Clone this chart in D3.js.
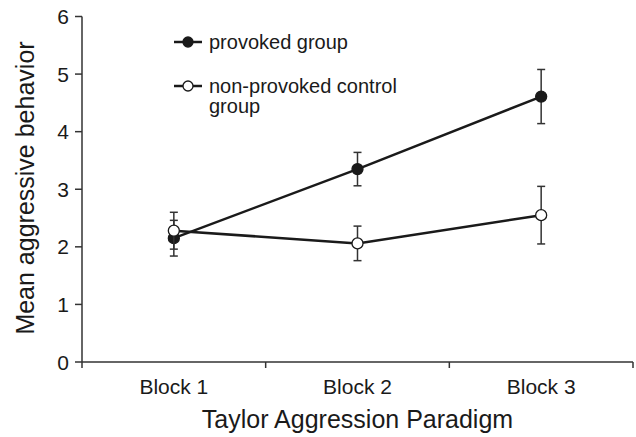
<!DOCTYPE html>
<html>
<head>
<meta charset="utf-8">
<script src="https://cdn.jsdelivr.net/npm/d3@7"></script>
<style>
  body { margin: 0; background: #fff; }
  text { font-family: "Liberation Sans", Arial, Helvetica, sans-serif; fill: #1a1a1a; }
</style>
</head>
<body>
<div id="root"></div>
<script>
const blocks = ['Block 1', 'Block 2', 'Block 3'];
const yTicks = [0, 1, 2, 3, 4, 5, 6];
const provokedMean = [2.15, 3.35, 4.61];
const provokedErr = [0.31, 0.29, 0.47];
const controlMean = [2.28, 2.06, 2.55];
const controlErr = [0.32, 0.30, 0.50];
const legendLabels = ['provoked group', ['non-provoked control', 'group']];

const width = 636;
const height = 437;
const ink = '#1a1a1a';
const axisInk = '#333';

const svg = d3.select('#root')
    .append('svg')
    .attr('width', width)
    .attr('height', height);

const x = d3.scaleBand().domain(blocks).range([82, 633]).padding(0);
const y = d3.scaleLinear().domain([0, 6]).range([362, 16.5]);

// y axis
svg.append('line')
    .attr('x1', x.range()[0]).attr('x2', x.range()[0])
    .attr('y1', y(6)).attr('y2', y(0) + 6)
    .attr('stroke', axisInk).attr('stroke-width', 1.5);

svg.selectAll('.ytick')
    .data(yTicks)
    .join('line')
    .attr('class', 'ytick')
    .attr('x1', x.range()[0] - 7).attr('x2', x.range()[0])
    .attr('y1', d => y(d)).attr('y2', d => y(d))
    .attr('stroke', axisInk).attr('stroke-width', 1.5);

svg.selectAll('.ylab')
    .data(yTicks)
    .join('text')
    .attr('class', 'ylab')
    .attr('x', x.range()[0] - 13)
    .attr('y', d => y(d))
    .attr('dy', '0.36em')
    .attr('text-anchor', 'end')
    .style('font-size', '21px')
    .text(d => d);

// x axis
svg.append('line')
    .attr('x1', x.range()[0]).attr('x2', x.range()[1])
    .attr('y1', y(0)).attr('y2', y(0))
    .attr('stroke', axisInk).attr('stroke-width', 1.5);

const boundaries = [...blocks.map(b => x(b)), x.range()[1]];
svg.selectAll('.xtick')
    .data(boundaries.slice(1))
    .join('line')
    .attr('class', 'xtick')
    .attr('x1', d => d).attr('x2', d => d)
    .attr('y1', y(0)).attr('y2', y(0) + 6)
    .attr('stroke', axisInk).attr('stroke-width', 1.5);

svg.selectAll('.xlab')
    .data(blocks)
    .join('text')
    .attr('class', 'xlab')
    .attr('x', d => x(d) + x.bandwidth() / 2)
    .attr('y', 394)
    .attr('text-anchor', 'middle')
    .style('font-size', '21px')
    .text(d => d);

svg.append('text')
    .attr('x', (x.range()[0] + x.range()[1]) / 2)
    .attr('y', 428)
    .attr('text-anchor', 'middle')
    .style('font-size', '25px')
    .text('Taylor Aggression Paradigm');

svg.append('text')
    .attr('transform', `translate(${34},${188}) rotate(-90)`)
    .attr('text-anchor', 'middle')
    .style('font-size', '25px')
    .text('Mean aggressive behavior');

const cx = d => x(d) + x.bandwidth() / 2;

function drawSeries(means, errs, filled) {
    const pts = blocks.map((b, k) => ({ b, m: means[k], e: errs[k] }));
    const g = svg.append('g');

    g.selectAll('.err')
        .data(pts)
        .join('line')
        .attr('x1', d => cx(d.b)).attr('x2', d => cx(d.b))
        .attr('y1', d => y(d.m + d.e)).attr('y2', d => y(d.m - d.e))
        .attr('stroke', axisInk).attr('stroke-width', 1.5);

    [1, -1].forEach(s => {
        g.selectAll(null)
            .data(pts)
            .join('line')
            .attr('x1', d => cx(d.b) - 4).attr('x2', d => cx(d.b) + 4)
            .attr('y1', d => y(d.m + s * d.e)).attr('y2', d => y(d.m + s * d.e))
            .attr('stroke', axisInk).attr('stroke-width', 1.5);
    });

    g.append('path')
        .datum(pts)
        .attr('fill', 'none')
        .attr('stroke', ink)
        .attr('stroke-width', 2.5)
        .attr('d', d3.line().x(d => cx(d.b)).y(d => y(d.m)));

    g.selectAll('circle')
        .data(pts)
        .join('circle')
        .attr('cx', d => cx(d.b)).attr('cy', d => y(d.m))
        .attr('r', 5.5)
        .attr('fill', filled ? ink : '#fff')
        .attr('stroke', ink)
        .attr('stroke-width', 1.3);
}

drawSeries(provokedMean, provokedErr, true);
drawSeries(controlMean, controlErr, false);

// legend
const legend = svg.append('g');
[[42, true, legendLabels[0]], [86, false, legendLabels[1]]].forEach(([ly, filled, label]) => {
    legend.append('line')
        .attr('x1', 174).attr('x2', 202)
        .attr('y1', ly).attr('y2', ly)
        .attr('stroke', ink).attr('stroke-width', 2.5);
    legend.append('circle')
        .attr('cx', 188).attr('cy', ly).attr('r', 5)
        .attr('fill', filled ? ink : '#fff')
        .attr('stroke', ink).attr('stroke-width', 1.3);
    const lines = Array.isArray(label) ? label : [label];
    const t = legend.append('text')
        .attr('x', 209).attr('y', ly)
        .style('font-size', '20px');
    lines.forEach((l, k) => {
        t.append('tspan').attr('x', 209).attr('dy', k === 0 ? '0.36em' : '1.0em').text(l);
    });
});
</script>
</body>
</html>
